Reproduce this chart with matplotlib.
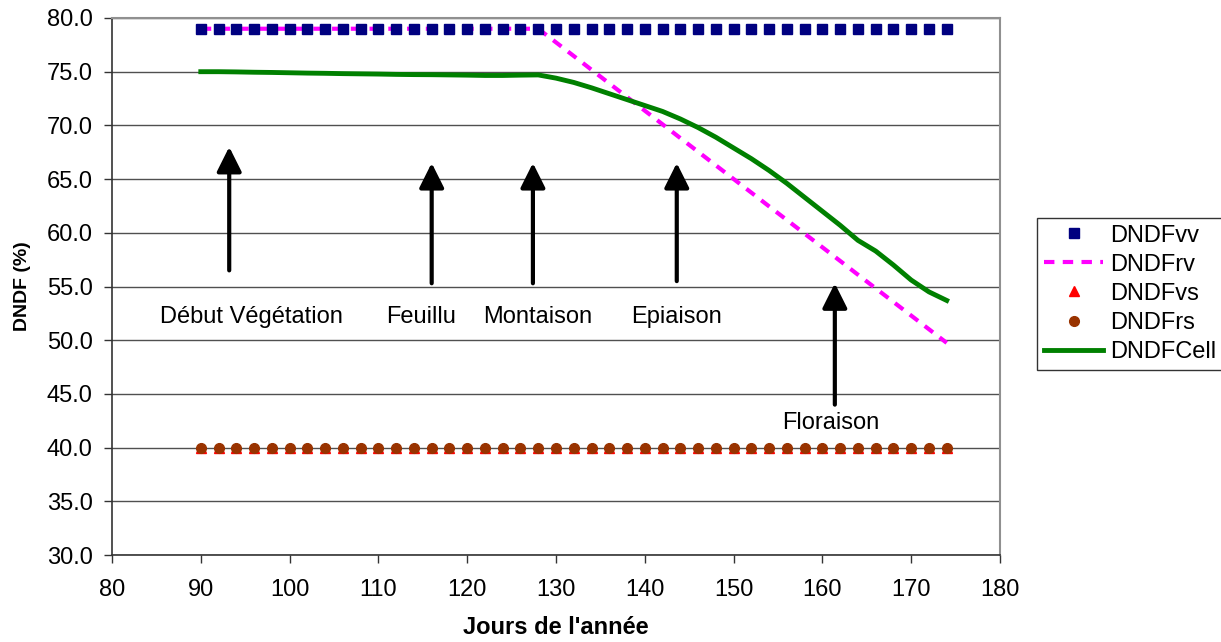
import numpy as np
import matplotlib.pyplot as plt
from matplotlib.lines import Line2D

plt.rcParams['font.family'] = ['Liberation Sans', 'DejaVu Sans']

# jours de l'année, un point tous les 2 jours
jours = list(range(90, 176, 2))

dndf_vv = [79.0] * len(jours)
dndf_vs = [40.0] * len(jours)
dndf_rs = [40.0] * len(jours)

dndf_rv = [79.0] * 20 + [77.73, 76.46, 75.18, 73.91, 72.64, 71.37, 70.10, 68.82,
                         67.55, 66.28, 65.01, 63.74, 62.46, 61.19, 59.92, 58.65,
                         57.38, 56.10, 54.83, 53.56, 52.29, 51.02, 49.75]

dndf_cell = [75.0, 75.0, 74.98, 74.95, 74.93, 74.9, 74.87, 74.85, 74.82, 74.8,
             74.78, 74.75, 74.73, 74.72, 74.7, 74.68, 74.65, 74.65, 74.68, 74.7,
             74.4, 74.0, 73.5, 72.95, 72.4, 71.85, 71.3, 70.6, 69.8, 68.9,
             67.9, 66.9, 65.8, 64.6, 63.3, 62.0, 60.7, 59.3, 58.3, 57.0,
             55.6, 54.5, 53.7]

# stades phénologiques : texte, x flèche, y bas, y haut, position texte
stades = ['Début Végétation', 'Feuillu', 'Montaison', 'Epiaison', 'Floraison']
fleche_x = [93.2, 116.0, 127.4, 143.6, 161.4]
fleche_bas = [56.5, 55.3, 55.3, 55.5, 44.0]
fleche_haut = [68.0, 66.5, 66.5, 66.5, 55.3]
texte_x = [95.7, 114.8, 127.9, 143.6, 160.9]
texte_y = [51.6, 51.6, 51.6, 51.6, 41.7]

fig = plt.figure(figsize=(12.21, 6.42), dpi=100)
ax = fig.add_axes([112 / 1221, 87 / 642, 888 / 1221, 537 / 642])

ax.plot(jours, dndf_rv, color='#FF00FF', lw=3, dashes=(2.5, 2), zorder=3)
ax.plot(jours, dndf_vv, ls='none', marker='s', ms=7, color='#000080', zorder=4)
ax.plot(jours, dndf_vs, ls='none', marker='^', ms=7, color='#FF0000', zorder=4)
ax.plot(jours, dndf_rs, ls='none', marker='o', ms=7, color='#993300', zorder=5)
ax.plot(jours, dndf_cell, color='#008000', lw=3.5, zorder=4)

for s, fx, yb, yh, tx, ty in zip(stades, fleche_x, fleche_bas, fleche_haut, texte_x, texte_y):
    ax.annotate('', xy=(fx, yh), xytext=(fx, yb),
                arrowprops=dict(arrowstyle='-|>,head_length=0.75,head_width=0.375',
                                mutation_scale=20, color='black', lw=3,
                                shrinkA=0, shrinkB=0))
    ax.text(tx, ty, s, fontsize=17, ha='center', va='baseline')

ax.set_xlim(80, 180)
ax.set_ylim(30, 80)
ax.set_xticks(range(80, 181, 10))
ax.set_yticks(np.arange(30, 80.1, 5))
ax.set_yticklabels(['%.1f' % v for v in np.arange(30, 80.1, 5)])
ax.tick_params(labelsize=17, direction='out', length=6, width=1, color='#333333')
ax.tick_params(axis='x', pad=11)
ax.tick_params(axis='y', pad=8)
ax.yaxis.grid(True, color='#505050', lw=1)
ax.set_axisbelow(True)
for sp in ['top', 'right']:
    ax.spines[sp].set_color('#909090')
    ax.spines[sp].set_linewidth(1.5)
for sp in ['left', 'bottom']:
    ax.spines[sp].set_color('#333333')
    ax.spines[sp].set_linewidth(1.2)

ax.set_xlabel("Jours de l'année", fontsize=17, fontweight='bold', labelpad=11)
ax.set_ylabel('DNDF (%)', fontsize=14, fontweight='bold', labelpad=11)

handles = [
    Line2D([], [], ls='none', marker='s', ms=7, color='#000080'),
    Line2D([], [], color='#FF00FF', lw=3, dashes=(2.5, 2)),
    Line2D([], [], ls='none', marker='^', ms=7, color='#FF0000'),
    Line2D([], [], ls='none', marker='o', ms=7, color='#993300'),
    Line2D([], [], color='#008000', lw=3.5),
]
labels = ['DNDFvv', 'DNDFrv', 'DNDFvs', 'DNDFrs', 'DNDFCell']
leg = fig.legend(handles, labels, loc='lower left', bbox_to_anchor=(1037 / 1221, 272 / 642),
                 fontsize=17, frameon=True, fancybox=False, edgecolor='black',
                 handlelength=2.5, handletextpad=0.3, labelspacing=0.3, borderpad=0.3,
                 borderaxespad=0)
leg.get_frame().set_linewidth(1)

fig.savefig('out.png', dpi=100)
